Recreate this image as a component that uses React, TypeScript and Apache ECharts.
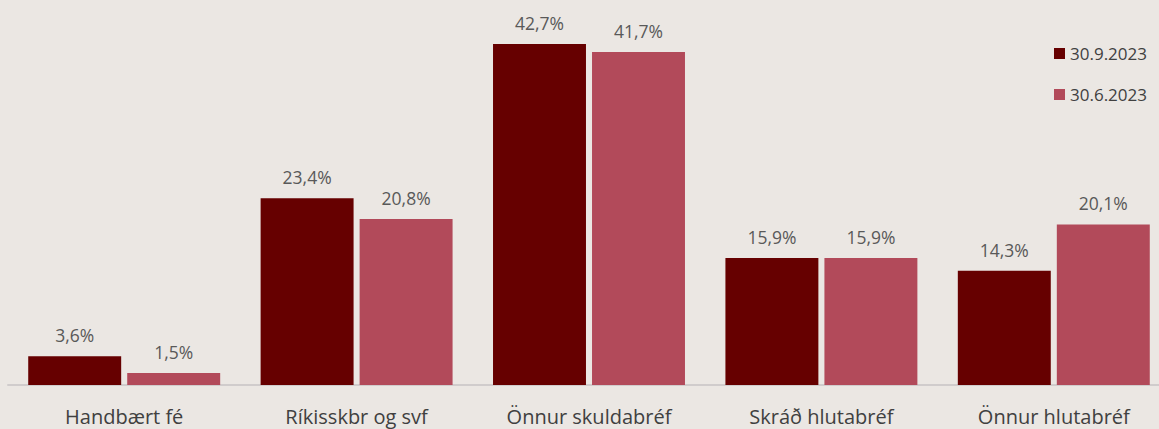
import React, { useEffect, useRef } from "react";
import * as echarts from "echarts";

const categories = ["Handbært fé", "Ríkisskbr og svf", "Önnur skuldabréf", "Skráð hlutabréf", "Önnur hlutabréf"];
const seriesNames = ["30.9.2023", "30.6.2023"];
const values2023Q3 = [3.6, 23.4, 42.7, 15.9, 14.3];
const values2023Q2 = [1.5, 20.8, 41.7, 15.9, 20.1];

const FONT = "'Open Sans', 'Noto Sans', sans-serif";

export default function App() {
  const ref = useRef<HTMLDivElement>(null);
  useEffect(() => {
    document.body.style.margin = "0";
    const chart = echarts.init(ref.current!, null, { renderer: "svg" });
    const label = {
      show: true,
      position: "top",
      distance: 12,
      color: "#595959",
      fontSize: 17.5,
      fontFamily: FONT,
      formatter: (p: any) => p.value.toFixed(1).replace(".", ",") + "%",
    };
    chart.setOption({
      animation: false,
      backgroundColor: "#EBE7E3",
      textStyle: { fontFamily: FONT },
      legend: {
        orient: "vertical",
        left: 1049,
        top: 40,
        itemWidth: 11,
        itemHeight: 11,
        itemGap: 24,
        icon: "rect",
        textStyle: { color: "#404040", fontSize: 17, fontFamily: FONT },
        data: seriesNames,
      },
      grid: { left: 8, right: 0, top: 385 - 45 * 7.986, bottom: 430 - 385, containLabel: false },
      xAxis: {
        type: "category",
        data: categories,
        axisLine: { lineStyle: { color: "#D0CCCC", width: 2 } },
        axisTick: { show: false },
        axisLabel: { color: "#404040", fontSize: 20, fontFamily: FONT, margin: 21 },
      },
      yAxis: { type: "value", min: 0, max: 45, show: false, splitLine: { show: false } },
      series: [
        {
          name: seriesNames[0],
          type: "bar",
          data: values2023Q3,
          itemStyle: { color: "#660000" },
          barGap: "6.5%",
          barCategoryGap: "17.4%",
          label,
        },
        {
          name: seriesNames[1],
          type: "bar",
          data: values2023Q2,
          itemStyle: { color: "#B24A5A" },
          label,
        },
      ],
    });
    return () => chart.dispose();
  }, []);
  return (
    <div style={{ width: 1159, height: 429, overflow: "hidden" }}>
      <div ref={ref} style={{ width: 1170, height: 430 }} />
    </div>
  );
}
